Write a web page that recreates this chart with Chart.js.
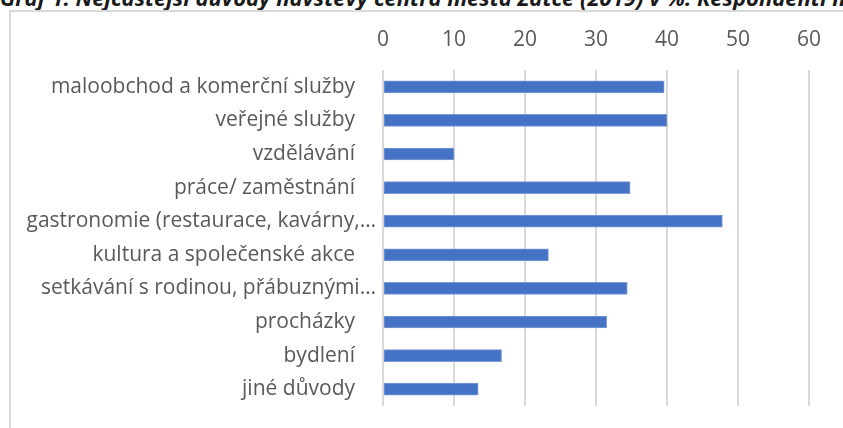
<!DOCTYPE html>
<html>
<head>
<meta charset="utf-8">
<script src="https://cdn.jsdelivr.net/npm/chart.js@4.4.1/dist/chart.umd.min.js"></script>
<style>
  html, body { margin: 0; padding: 0; background: #fff; overflow: hidden; }
  #wrap { position: relative; width: 843px; height: 428px; overflow: hidden; }
  #title {
    position: absolute; left: 0; top: -15px; white-space: nowrap;
    font: italic bold 22px "Open Sans", sans-serif; color: #1a1a1a; line-height: 24px;
  }
  #frame {
    position: absolute; left: 9px; top: 10px; width: 900px; height: 500px;
    border-left: 2px solid #d9d9d9; border-top: 2px solid #d9d9d9;
  }
  #chartBox { position: absolute; left: 0; top: 0; width: 843px; height: 428px; }
</style>
</head>
<body>
<div id="wrap">
  <div id="title">Graf 1: Nejčastější důvody návštěvy centra města Žatce (2019) v %. Respondenti mohli vybrat více možností</div>
  <div id="frame"></div>
  <div id="chartBox"><canvas id="reasonsChart" width="843" height="428"></canvas></div>
</div>
<script>
// categories top to bottom
var reasons = ["maloobchod a komerční služby", "veřejné služby", "vzdělávání", "práce/ zaměstnání",
               "gastronomie (restaurace, kavárny,…", "kultura a společenské akce",
               "setkávání s rodinou, přábuznými…", "procházky", "bydlení", "jiné důvody"];
var shares = [39.6, 40.0, 10.0, 34.8, 47.8, 23.3, 34.4, 31.5, 16.7, 13.4];   // % of respondents
var axisMin = 0, axisMax = 60, axisStep = 10;

var ctx = document.getElementById("reasonsChart").getContext('2d');
var reasonsChart = new Chart(ctx, {
    type: 'bar',
    data: {
        labels: reasons,
        datasets: [
            {
                label: "Důvody návštěvy",
                data: shares,
                backgroundColor: '#4472c4',
                borderColor: '#7d9bd6',
                borderWidth: 1,
                borderSkipped: false,
                barThickness: 12
            }
        ]
    },
    options: {
        indexAxis: 'y',
        responsive: false,
        animation: false,
        layout: { padding: { left: 0, right: 34, top: 0, bottom: 22 } },
        plugins: { legend: { display: false }, tooltip: { enabled: false } },
        scales: {
            x: {
                position: 'top',
                min: axisMin, max: axisMax,
                ticks: { stepSize: axisStep, color: '#595959', padding: 17,
                         font: { family: 'Open Sans', size: 21 } },
                grid: { color: '#d9d9d9', lineWidth: 2, drawTicks: false },
                border: { display: false },
                afterFit: function (scale) { scale.height = 70; }
            },
            y: {
                ticks: {
                    color: '#595959', padding: 7, autoSkip: false,
                    font: { family: 'Open Sans', size: 21 },
                    // Excel leaves extra room after labels that were not cut short
                    callback: function (v, i) {
                        var t = reasons[i];
                        return t.slice(-1) === '…' ? t : t + '\u2003';
                    }
                },
                grid: { display: false, drawTicks: false },
                border: { display: false },
                afterFit: function (scale) { scale.width = 383; }
            }
        }
    }
});
</script>
</body>
</html>
